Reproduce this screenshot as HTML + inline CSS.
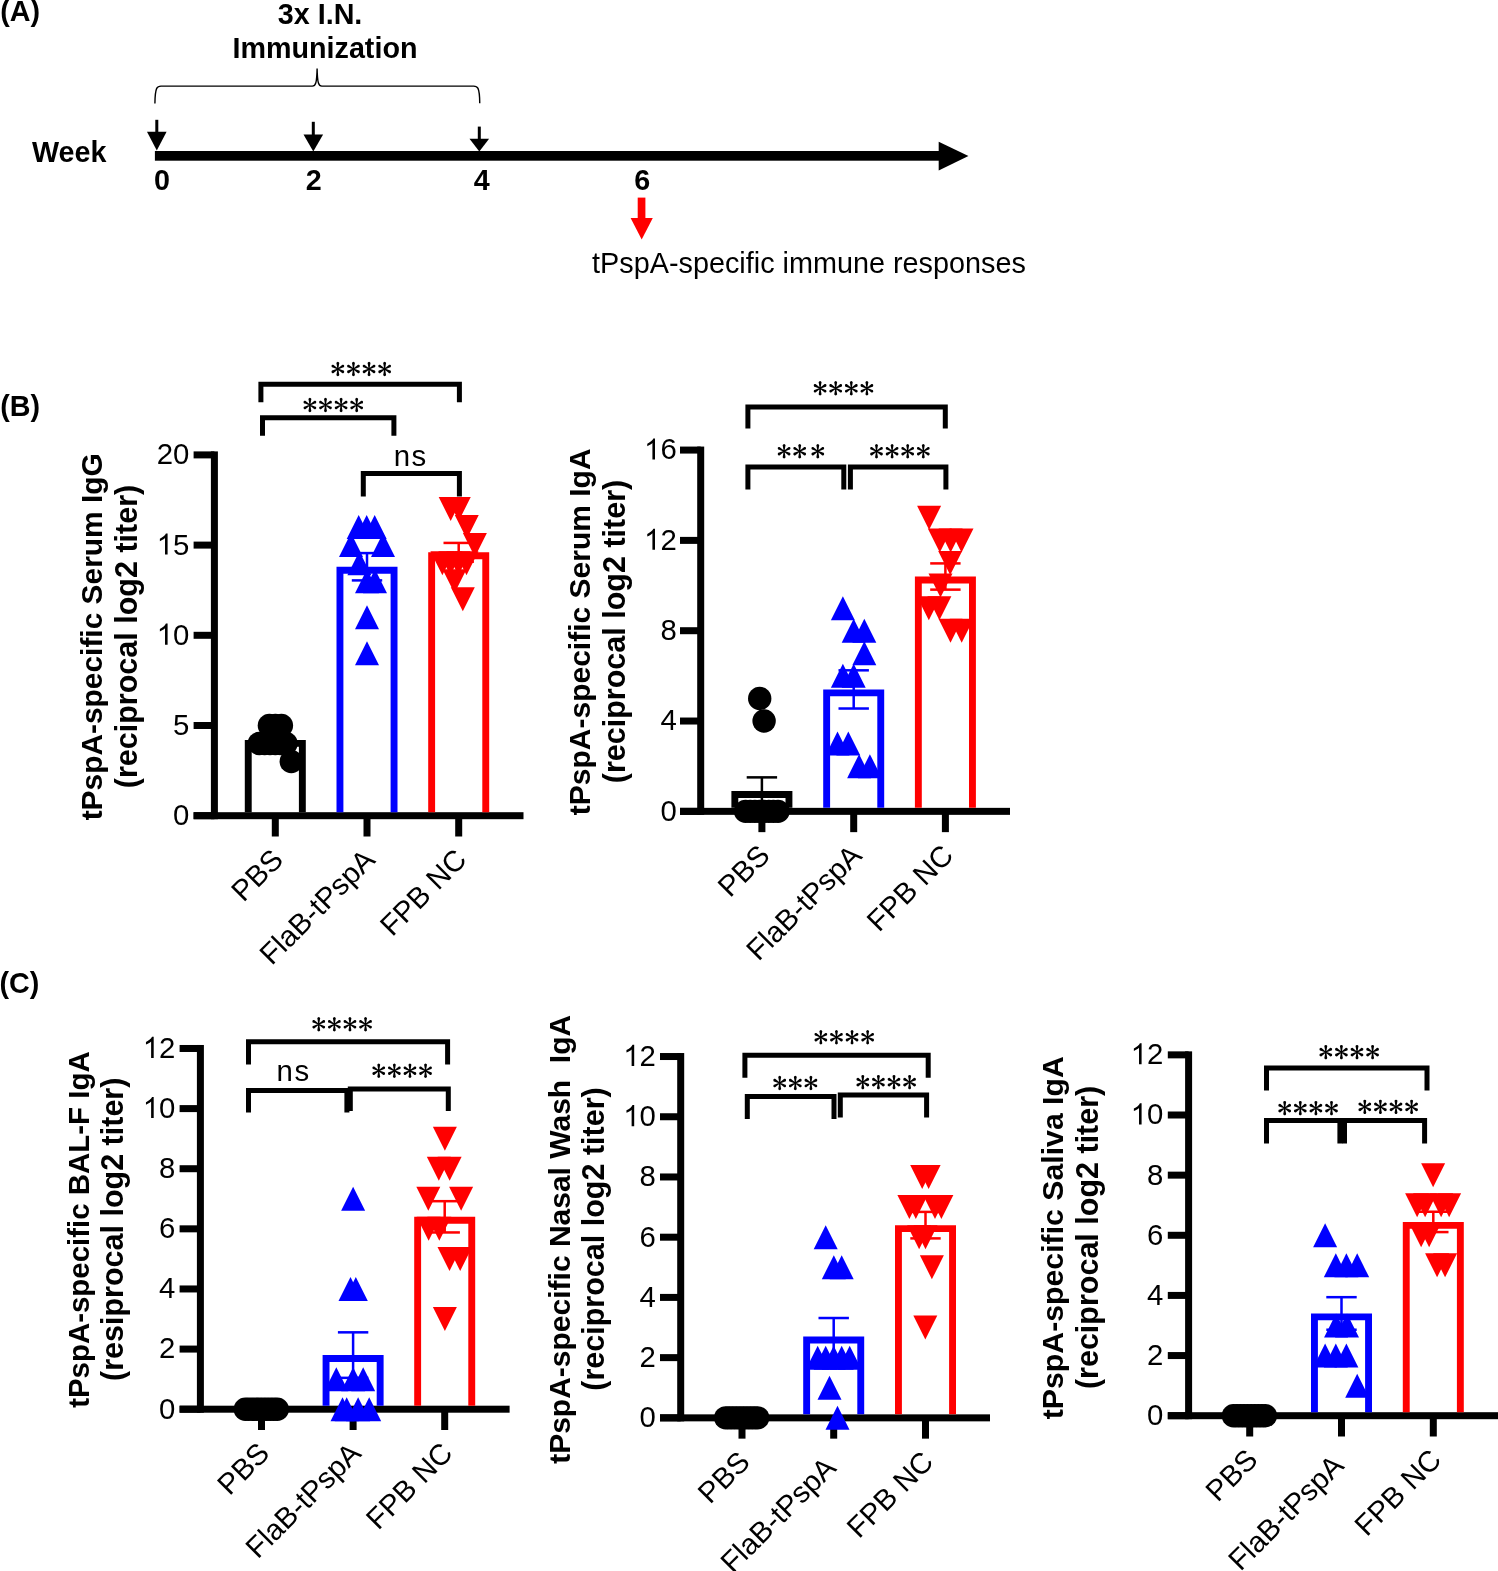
<!DOCTYPE html>
<html><head><meta charset="utf-8"><title>Figure</title>
<style>
html,body{margin:0;padding:0;background:#fff;}
body{width:1498px;height:1571px;overflow:hidden;font-family:"Liberation Sans",sans-serif;}
svg{display:block;}
</style></head><body>
<svg width="1498" height="1571" viewBox="0 0 1498 1571" style="will-change:transform">
<rect width="1498" height="1571" fill="#fff"/>
<text x="0.3" y="20.9" font-family="'Liberation Sans', sans-serif" font-weight="bold" font-size="28.7">(A)</text>
<text x="320.1" y="23.6" font-family="'Liberation Sans', sans-serif" font-weight="bold" font-size="28.7" text-anchor="middle">3x I.N.</text>
<text x="325" y="58.1" font-family="'Liberation Sans', sans-serif" font-weight="bold" font-size="28.7" text-anchor="middle">Immunization</text>
<text x="69.2" y="161.9" font-family="'Liberation Sans', sans-serif" font-weight="bold" font-size="28.7" text-anchor="middle">Week</text>
<text x="162.05" y="190.3" font-family="'Liberation Sans', sans-serif" font-weight="bold" font-size="28.7" text-anchor="middle">0</text>
<text x="313.8" y="190.3" font-family="'Liberation Sans', sans-serif" font-weight="bold" font-size="28.7" text-anchor="middle">2</text>
<text x="481.85" y="190.3" font-family="'Liberation Sans', sans-serif" font-weight="bold" font-size="28.7" text-anchor="middle">4</text>
<text x="642.2" y="190.3" font-family="'Liberation Sans', sans-serif" font-weight="bold" font-size="28.7" text-anchor="middle">6</text>
<path d="M154.9 103.5 C155 96 155.5 91 156.7 88.4 C157.5 86.8 158.8 86.1 161 86.1 H312.4 C315.4 86.1 316.8 83.8 317.1 68.5 C317.4 83.8 318.8 86.1 321.8 86.1 H473.7 C475.9 86.1 477.2 86.8 478 88.4 C479.2 91 479.7 96 479.75 103.3" fill="none" stroke="#000" stroke-width="1.4"/>
<rect x="154.9" y="151" width="790" height="9.7" fill="#000"/>
<path d="M938.7 141.7L968.45 156.1L938.7 170.5Z" fill="#000"/>
<rect x="155.3" y="119.8" width="3" height="13.000000000000014" fill="#000"/>
<path d="M147.0 131.8L166.60000000000002 131.8L156.8 150.6Z" fill="#000"/>
<rect x="311.8" y="121.8" width="3" height="13.799999999999997" fill="#000"/>
<path d="M303.5 134.6L323.1 134.6L313.3 151.6Z" fill="#000"/>
<rect x="477.8" y="126.6" width="3" height="13.200000000000017" fill="#000"/>
<path d="M469.5 138.8L489.1 138.8L479.3 151.6Z" fill="#000"/>
<rect x="637.7" y="197.6" width="7.7" height="21" fill="#ff0000"/>
<path d="M630.6 218.1L652.8 218.1L641.7 239.6Z" fill="#ff0000"/>
<text x="592.1" y="273.4" font-family="'Liberation Sans', sans-serif" font-size="28.8">tPspA-specific immune responses</text>
<text x="0.3" y="416" font-family="'Liberation Sans', sans-serif" font-weight="bold" font-size="28.7">(B)</text>
<text x="-0.6" y="993" font-family="'Liberation Sans', sans-serif" font-weight="bold" font-size="28.7">(C)</text>
<rect x="210.9" y="451.4" width="7" height="367.8" fill="#000000"/>
<rect x="193.6" y="812.2" width="329.9" height="7" fill="#000000"/>
<rect x="193.6" y="812.2" width="20.8" height="7" fill="#000000"/>
<text transform="translate(189.3 825.1) scale(1 1.02)" font-family="'Liberation Sans', sans-serif" font-size="29.33" text-anchor="end">0</text>
<rect x="193.6" y="722" width="20.8" height="7" fill="#000000"/>
<text transform="translate(189.3 734.9) scale(1 1.02)" font-family="'Liberation Sans', sans-serif" font-size="29.33" text-anchor="end">5</text>
<rect x="193.6" y="631.8" width="20.8" height="7" fill="#000000"/>
<path d="M763 0H583V1147Q518 1085 412.5 1023Q307 961 223 930V1104Q374 1175 487 1276Q600 1377 647 1472H763Z" transform="translate(156.67 644.7) scale(0.01432 -0.01432)"/>
<text transform="translate(189.3 644.7) scale(1 1.02)" font-family="'Liberation Sans', sans-serif" font-size="29.33" text-anchor="end">0</text>
<rect x="193.6" y="541.6" width="20.8" height="7" fill="#000000"/>
<path d="M763 0H583V1147Q518 1085 412.5 1023Q307 961 223 930V1104Q374 1175 487 1276Q600 1377 647 1472H763Z" transform="translate(156.67 554.5) scale(0.01432 -0.01432)"/>
<text transform="translate(189.3 554.5) scale(1 1.02)" font-family="'Liberation Sans', sans-serif" font-size="29.33" text-anchor="end">5</text>
<rect x="193.6" y="451.4" width="20.8" height="7" fill="#000000"/>
<text transform="translate(189.3 464.3) scale(1 1.02)" font-family="'Liberation Sans', sans-serif" font-size="29.33" text-anchor="end">20</text>
<rect x="271.8" y="815.7" width="7" height="20.8" fill="#000000"/>
<rect x="363.5" y="815.7" width="7" height="20.8" fill="#000000"/>
<rect x="455.2" y="815.7" width="7" height="20.8" fill="#000000"/>
<path fill-rule="evenodd" d="M244.8 812.2V739.93H305.8V812.2Z M251.7 812.2V746.83H298.9V812.2Z" fill="#000000"/>
<path fill-rule="evenodd" d="M336.5 812.2V566.75H397.5V812.2Z M343.4 812.2V573.65H390.6V812.2Z" fill="#0000ff"/>
<path fill-rule="evenodd" d="M428.2 812.2V552.32H489.2V812.2Z M435.1 812.2V559.22H482.3V812.2Z" fill="#ff0000"/>
<rect x="274.05" y="736.32" width="2.5" height="7.22" fill="#000000"/>
<rect x="260.1" y="735.07" width="30.4" height="2.5" fill="#000000"/>
<rect x="260.1" y="742.29" width="30.4" height="2.5" fill="#000000"/>
<rect x="365.75" y="553.09" width="2.5" height="27.31" fill="#0000ff"/>
<rect x="351.8" y="551.84" width="30.4" height="2.5" fill="#0000ff"/>
<rect x="351.8" y="579.15" width="30.4" height="2.5" fill="#0000ff"/>
<rect x="457.45" y="542.92" width="2.5" height="18.8" fill="#ff0000"/>
<rect x="443.5" y="541.67" width="30.4" height="2.5" fill="#ff0000"/>
<rect x="443.5" y="560.46" width="30.4" height="2.5" fill="#ff0000"/>
<circle cx="259.3" cy="743.54" r="11.7" fill="#000000"/>
<circle cx="264.64" cy="743.54" r="11.7" fill="#000000"/>
<circle cx="269.98" cy="743.54" r="11.7" fill="#000000"/>
<circle cx="275.32" cy="743.54" r="11.7" fill="#000000"/>
<circle cx="280.66" cy="743.54" r="11.7" fill="#000000"/>
<circle cx="286" cy="743.54" r="11.7" fill="#000000"/>
<circle cx="291.3" cy="761.58" r="11.7" fill="#000000"/>
<circle cx="269.4" cy="725.5" r="11.7" fill="#000000"/>
<circle cx="275.4" cy="725.5" r="11.7" fill="#000000"/>
<circle cx="281.4" cy="725.5" r="11.7" fill="#000000"/>
<path d="M339 557.1L363 557.1L351 533.1Z" fill="#0000ff"/>
<path d="M371 557.1L395 557.1L383 533.1Z" fill="#0000ff"/>
<path d="M346.7 539.06L370.7 539.06L358.7 515.06Z" fill="#0000ff"/>
<path d="M354.7 539.06L378.7 539.06L366.7 515.06Z" fill="#0000ff"/>
<path d="M362.7 539.06L386.7 539.06L374.7 515.06Z" fill="#0000ff"/>
<path d="M347.4 575.14L371.4 575.14L359.4 551.14Z" fill="#0000ff"/>
<path d="M355 593.18L379 593.18L367 569.18Z" fill="#0000ff"/>
<path d="M363 593.18L387 593.18L375 569.18Z" fill="#0000ff"/>
<path d="M355 629.26L379 629.26L367 605.26Z" fill="#0000ff"/>
<path d="M355 665.34L379 665.34L367 641.34Z" fill="#0000ff"/>
<path d="M438.7 497.02L462.7 497.02L450.7 521.02Z" fill="#ff0000"/>
<path d="M446.75 497.02L470.75 497.02L458.75 521.02Z" fill="#ff0000"/>
<path d="M454.75 515.06L478.75 515.06L466.75 539.06Z" fill="#ff0000"/>
<path d="M462.9 533.1L486.9 533.1L474.9 557.1Z" fill="#ff0000"/>
<path d="M430.4 551.14L454.4 551.14L442.4 575.14Z" fill="#ff0000"/>
<path d="M438.4 551.14L462.4 551.14L450.4 575.14Z" fill="#ff0000"/>
<path d="M446.4 551.14L470.4 551.14L458.4 575.14Z" fill="#ff0000"/>
<path d="M454.5 551.14L478.5 551.14L466.5 575.14Z" fill="#ff0000"/>
<path d="M442.5 569.18L466.5 569.18L454.5 593.18Z" fill="#ff0000"/>
<path d="M450.8 587.22L474.8 587.22L462.8 611.22Z" fill="#ff0000"/>
<text x="284.9" y="861.4" font-family="'Liberation Sans', sans-serif" font-size="29.33" font-weight="normal" text-anchor="end" transform="rotate(-45 284.9 861.4)">PBS</text>
<text x="376.6" y="861.4" font-family="'Liberation Sans', sans-serif" font-size="29.33" font-weight="normal" text-anchor="end" transform="rotate(-45 376.6 861.4)">FlaB-tPspA</text>
<text x="468.3" y="861.4" font-family="'Liberation Sans', sans-serif" font-size="29.33" font-weight="normal" text-anchor="end" transform="rotate(-45 468.3 861.4)">FPB NC</text>
<text x="102" y="636.8" font-family="'Liberation Sans', sans-serif" font-size="29.9" font-weight="bold" text-anchor="middle" transform="rotate(-90 102 636.8)">tPspA-specific Serum IgG</text>
<text x="136.8" y="636.5" font-family="'Liberation Sans', sans-serif" font-size="30.5" font-weight="bold" text-anchor="middle" transform="rotate(-90 136.8 636.5)">(reciprocal log2 titer)</text>
<path d="M258.4 402.3V381.7H461.9V402.3H456.9V386.7H263.4V402.3Z" fill="#000"/>
<path d="M-0.40 0.30L-1.25 -4.95A1.45 1.45 0 1 1 1.25 -4.95L0.40 0.30ZM-0.46 -0.20L3.66 -3.56A1.45 1.45 0 1 1 4.91 -1.39L-0.06 0.50ZM-0.06 -0.50L4.91 1.39A1.45 1.45 0 1 1 3.66 3.56L-0.46 0.20ZM0.40 -0.30L1.25 4.95A1.45 1.45 0 1 1 -1.25 4.95L-0.40 -0.30ZM0.46 0.20L-3.66 3.56A1.45 1.45 0 1 1 -4.91 1.39L0.06 -0.50ZM0.06 0.50L-4.91 -1.39A1.45 1.45 0 1 1 -3.66 -3.56L0.46 -0.20Z" transform="translate(337.85 368.95)"/>
<path d="M-0.40 0.30L-1.25 -4.95A1.45 1.45 0 1 1 1.25 -4.95L0.40 0.30ZM-0.46 -0.20L3.66 -3.56A1.45 1.45 0 1 1 4.91 -1.39L-0.06 0.50ZM-0.06 -0.50L4.91 1.39A1.45 1.45 0 1 1 3.66 3.56L-0.46 0.20ZM0.40 -0.30L1.25 4.95A1.45 1.45 0 1 1 -1.25 4.95L-0.40 -0.30ZM0.46 0.20L-3.66 3.56A1.45 1.45 0 1 1 -4.91 1.39L0.06 -0.50ZM0.06 0.50L-4.91 -1.39A1.45 1.45 0 1 1 -3.66 -3.56L0.46 -0.20Z" transform="translate(353.45 368.95)"/>
<path d="M-0.40 0.30L-1.25 -4.95A1.45 1.45 0 1 1 1.25 -4.95L0.40 0.30ZM-0.46 -0.20L3.66 -3.56A1.45 1.45 0 1 1 4.91 -1.39L-0.06 0.50ZM-0.06 -0.50L4.91 1.39A1.45 1.45 0 1 1 3.66 3.56L-0.46 0.20ZM0.40 -0.30L1.25 4.95A1.45 1.45 0 1 1 -1.25 4.95L-0.40 -0.30ZM0.46 0.20L-3.66 3.56A1.45 1.45 0 1 1 -4.91 1.39L0.06 -0.50ZM0.06 0.50L-4.91 -1.39A1.45 1.45 0 1 1 -3.66 -3.56L0.46 -0.20Z" transform="translate(369.05 368.95)"/>
<path d="M-0.40 0.30L-1.25 -4.95A1.45 1.45 0 1 1 1.25 -4.95L0.40 0.30ZM-0.46 -0.20L3.66 -3.56A1.45 1.45 0 1 1 4.91 -1.39L-0.06 0.50ZM-0.06 -0.50L4.91 1.39A1.45 1.45 0 1 1 3.66 3.56L-0.46 0.20ZM0.40 -0.30L1.25 4.95A1.45 1.45 0 1 1 -1.25 4.95L-0.40 -0.30ZM0.46 0.20L-3.66 3.56A1.45 1.45 0 1 1 -4.91 1.39L0.06 -0.50ZM0.06 0.50L-4.91 -1.39A1.45 1.45 0 1 1 -3.66 -3.56L0.46 -0.20Z" transform="translate(384.65 368.95)"/>
<path d="M260 435.8V415.2H396.4V435.8H391.4V420.2H265V435.8Z" fill="#000"/>
<path d="M-0.40 0.30L-1.25 -4.95A1.45 1.45 0 1 1 1.25 -4.95L0.40 0.30ZM-0.46 -0.20L3.66 -3.56A1.45 1.45 0 1 1 4.91 -1.39L-0.06 0.50ZM-0.06 -0.50L4.91 1.39A1.45 1.45 0 1 1 3.66 3.56L-0.46 0.20ZM0.40 -0.30L1.25 4.95A1.45 1.45 0 1 1 -1.25 4.95L-0.40 -0.30ZM0.46 0.20L-3.66 3.56A1.45 1.45 0 1 1 -4.91 1.39L0.06 -0.50ZM0.06 0.50L-4.91 -1.39A1.45 1.45 0 1 1 -3.66 -3.56L0.46 -0.20Z" transform="translate(309.9 405)"/>
<path d="M-0.40 0.30L-1.25 -4.95A1.45 1.45 0 1 1 1.25 -4.95L0.40 0.30ZM-0.46 -0.20L3.66 -3.56A1.45 1.45 0 1 1 4.91 -1.39L-0.06 0.50ZM-0.06 -0.50L4.91 1.39A1.45 1.45 0 1 1 3.66 3.56L-0.46 0.20ZM0.40 -0.30L1.25 4.95A1.45 1.45 0 1 1 -1.25 4.95L-0.40 -0.30ZM0.46 0.20L-3.66 3.56A1.45 1.45 0 1 1 -4.91 1.39L0.06 -0.50ZM0.06 0.50L-4.91 -1.39A1.45 1.45 0 1 1 -3.66 -3.56L0.46 -0.20Z" transform="translate(325.5 405)"/>
<path d="M-0.40 0.30L-1.25 -4.95A1.45 1.45 0 1 1 1.25 -4.95L0.40 0.30ZM-0.46 -0.20L3.66 -3.56A1.45 1.45 0 1 1 4.91 -1.39L-0.06 0.50ZM-0.06 -0.50L4.91 1.39A1.45 1.45 0 1 1 3.66 3.56L-0.46 0.20ZM0.40 -0.30L1.25 4.95A1.45 1.45 0 1 1 -1.25 4.95L-0.40 -0.30ZM0.46 0.20L-3.66 3.56A1.45 1.45 0 1 1 -4.91 1.39L0.06 -0.50ZM0.06 0.50L-4.91 -1.39A1.45 1.45 0 1 1 -3.66 -3.56L0.46 -0.20Z" transform="translate(341.1 405)"/>
<path d="M-0.40 0.30L-1.25 -4.95A1.45 1.45 0 1 1 1.25 -4.95L0.40 0.30ZM-0.46 -0.20L3.66 -3.56A1.45 1.45 0 1 1 4.91 -1.39L-0.06 0.50ZM-0.06 -0.50L4.91 1.39A1.45 1.45 0 1 1 3.66 3.56L-0.46 0.20ZM0.40 -0.30L1.25 4.95A1.45 1.45 0 1 1 -1.25 4.95L-0.40 -0.30ZM0.46 0.20L-3.66 3.56A1.45 1.45 0 1 1 -4.91 1.39L0.06 -0.50ZM0.06 0.50L-4.91 -1.39A1.45 1.45 0 1 1 -3.66 -3.56L0.46 -0.20Z" transform="translate(356.7 405)"/>
<path d="M360.8 496.4V470.9H461.9V496.4H456.9V475.9H365.8V496.4Z" fill="#000"/>
<text x="410.8" y="466.3" font-family="'Liberation Sans', sans-serif" font-size="29.4" font-weight="normal" text-anchor="middle" letter-spacing="1.5">ns</text>
<rect x="697.2" y="446.57" width="7" height="368.28" fill="#000000"/>
<rect x="680" y="807.85" width="330" height="7" fill="#000000"/>
<rect x="680" y="807.85" width="20.7" height="7" fill="#000000"/>
<text transform="translate(676.7 820.75) scale(1 1.02)" font-family="'Liberation Sans', sans-serif" font-size="29.33" text-anchor="end">0</text>
<rect x="680" y="717.53" width="20.7" height="7" fill="#000000"/>
<text transform="translate(676.7 730.43) scale(1 1.02)" font-family="'Liberation Sans', sans-serif" font-size="29.33" text-anchor="end">4</text>
<rect x="680" y="627.21" width="20.7" height="7" fill="#000000"/>
<text transform="translate(676.7 640.11) scale(1 1.02)" font-family="'Liberation Sans', sans-serif" font-size="29.33" text-anchor="end">8</text>
<rect x="680" y="536.89" width="20.7" height="7" fill="#000000"/>
<path d="M763 0H583V1147Q518 1085 412.5 1023Q307 961 223 930V1104Q374 1175 487 1276Q600 1377 647 1472H763Z" transform="translate(644.07 549.79) scale(0.01432 -0.01432)"/>
<text transform="translate(676.7 549.79) scale(1 1.02)" font-family="'Liberation Sans', sans-serif" font-size="29.33" text-anchor="end">2</text>
<rect x="680" y="446.57" width="20.7" height="7" fill="#000000"/>
<path d="M763 0H583V1147Q518 1085 412.5 1023Q307 961 223 930V1104Q374 1175 487 1276Q600 1377 647 1472H763Z" transform="translate(644.07 459.47) scale(0.01432 -0.01432)"/>
<text transform="translate(676.7 459.47) scale(1 1.02)" font-family="'Liberation Sans', sans-serif" font-size="29.33" text-anchor="end">6</text>
<rect x="758.4" y="811.35" width="7" height="20.8" fill="#000000"/>
<rect x="850.2" y="811.35" width="7" height="20.8" fill="#000000"/>
<rect x="941.9" y="811.35" width="7" height="20.8" fill="#000000"/>
<path fill-rule="evenodd" d="M731.4 807.85V791.03H792.4V807.85Z M738.3 807.85V797.93H785.5V807.85Z" fill="#000000"/>
<path fill-rule="evenodd" d="M823.2 807.85V689.42H884.2V807.85Z M830.1 807.85V696.32H877.3V807.85Z" fill="#0000ff"/>
<path fill-rule="evenodd" d="M914.9 807.85V576.52H975.9V807.85Z M921.8 807.85V583.42H969V807.85Z" fill="#ff0000"/>
<rect x="760.65" y="777.37" width="2.5" height="27.32" fill="#000000"/>
<rect x="746.7" y="776.12" width="30.4" height="2.5" fill="#000000"/>
<rect x="746.7" y="803.44" width="30.4" height="2.5" fill="#000000"/>
<rect x="852.45" y="670.32" width="2.5" height="38.21" fill="#0000ff"/>
<rect x="838.5" y="669.07" width="30.4" height="2.5" fill="#0000ff"/>
<rect x="838.5" y="707.27" width="30.4" height="2.5" fill="#0000ff"/>
<rect x="944.15" y="563.4" width="2.5" height="26.24" fill="#ff0000"/>
<rect x="930.2" y="562.15" width="30.4" height="2.5" fill="#ff0000"/>
<rect x="930.2" y="588.39" width="30.4" height="2.5" fill="#ff0000"/>
<circle cx="745.59" cy="811.35" r="11.7" fill="#000000"/>
<circle cx="750.22" cy="811.35" r="11.7" fill="#000000"/>
<circle cx="754.85" cy="811.35" r="11.7" fill="#000000"/>
<circle cx="759.48" cy="811.35" r="11.7" fill="#000000"/>
<circle cx="764.12" cy="811.35" r="11.7" fill="#000000"/>
<circle cx="768.75" cy="811.35" r="11.7" fill="#000000"/>
<circle cx="773.38" cy="811.35" r="11.7" fill="#000000"/>
<circle cx="778" cy="811.35" r="11.7" fill="#000000"/>
<circle cx="764.1" cy="721.03" r="11.7" fill="#000000"/>
<circle cx="759.7" cy="698.45" r="11.7" fill="#000000"/>
<path d="M825.5 755.61L849.5 755.61L837.5 731.61Z" fill="#0000ff"/>
<path d="M836.3 755.61L860.3 755.61L848.3 731.61Z" fill="#0000ff"/>
<path d="M847.1 778.19L871.1 778.19L859.1 754.19Z" fill="#0000ff"/>
<path d="M857.9 778.19L881.9 778.19L869.9 754.19Z" fill="#0000ff"/>
<path d="M830.9 687.87L854.9 687.87L842.9 663.87Z" fill="#0000ff"/>
<path d="M841.7 687.87L865.7 687.87L853.7 663.87Z" fill="#0000ff"/>
<path d="M852.3 665.29L876.3 665.29L864.3 641.29Z" fill="#0000ff"/>
<path d="M841.7 642.71L865.7 642.71L853.7 618.71Z" fill="#0000ff"/>
<path d="M852.3 642.71L876.3 642.71L864.3 618.71Z" fill="#0000ff"/>
<path d="M830.9 620.13L854.9 620.13L842.9 596.13Z" fill="#0000ff"/>
<path d="M938.5 618.71L962.5 618.71L950.5 642.71Z" fill="#ff0000"/>
<path d="M949.7 618.71L973.7 618.71L961.7 642.71Z" fill="#ff0000"/>
<path d="M916.8 596.13L940.8 596.13L928.8 620.13Z" fill="#ff0000"/>
<path d="M927.4 596.13L951.4 596.13L939.4 620.13Z" fill="#ff0000"/>
<path d="M928.5 573.55L952.5 573.55L940.5 597.55Z" fill="#ff0000"/>
<path d="M938.2 550.97L962.2 550.97L950.2 574.97Z" fill="#ff0000"/>
<path d="M927.8 528.39L951.8 528.39L939.8 552.39Z" fill="#ff0000"/>
<path d="M938.6 528.39L962.6 528.39L950.6 552.39Z" fill="#ff0000"/>
<path d="M949.5 528.39L973.5 528.39L961.5 552.39Z" fill="#ff0000"/>
<path d="M917.1 505.81L941.1 505.81L929.1 529.81Z" fill="#ff0000"/>
<text x="771.5" y="857.05" font-family="'Liberation Sans', sans-serif" font-size="29.33" font-weight="normal" text-anchor="end" transform="rotate(-45 771.5 857.05)">PBS</text>
<text x="863.3" y="857.05" font-family="'Liberation Sans', sans-serif" font-size="29.33" font-weight="normal" text-anchor="end" transform="rotate(-45 863.3 857.05)">FlaB-tPspA</text>
<text x="955" y="857.05" font-family="'Liberation Sans', sans-serif" font-size="29.33" font-weight="normal" text-anchor="end" transform="rotate(-45 955 857.05)">FPB NC</text>
<text x="590.2" y="631.8" font-family="'Liberation Sans', sans-serif" font-size="30" font-weight="bold" text-anchor="middle" transform="rotate(-90 590.2 631.8)">tPspA-specific Serum IgA</text>
<text x="625" y="631.5" font-family="'Liberation Sans', sans-serif" font-size="30.5" font-weight="bold" text-anchor="middle" transform="rotate(-90 625 631.5)">(reciprocal log2 titer)</text>
<path d="M745.4 428.5V404.4H947.8V428.5H942.8V409.4H750.4V428.5Z" fill="#000"/>
<path d="M-0.40 0.30L-1.25 -4.95A1.45 1.45 0 1 1 1.25 -4.95L0.40 0.30ZM-0.46 -0.20L3.66 -3.56A1.45 1.45 0 1 1 4.91 -1.39L-0.06 0.50ZM-0.06 -0.50L4.91 1.39A1.45 1.45 0 1 1 3.66 3.56L-0.46 0.20ZM0.40 -0.30L1.25 4.95A1.45 1.45 0 1 1 -1.25 4.95L-0.40 -0.30ZM0.46 0.20L-3.66 3.56A1.45 1.45 0 1 1 -4.91 1.39L0.06 -0.50ZM0.06 0.50L-4.91 -1.39A1.45 1.45 0 1 1 -3.66 -3.56L0.46 -0.20Z" transform="translate(820.1 388.3)"/>
<path d="M-0.40 0.30L-1.25 -4.95A1.45 1.45 0 1 1 1.25 -4.95L0.40 0.30ZM-0.46 -0.20L3.66 -3.56A1.45 1.45 0 1 1 4.91 -1.39L-0.06 0.50ZM-0.06 -0.50L4.91 1.39A1.45 1.45 0 1 1 3.66 3.56L-0.46 0.20ZM0.40 -0.30L1.25 4.95A1.45 1.45 0 1 1 -1.25 4.95L-0.40 -0.30ZM0.46 0.20L-3.66 3.56A1.45 1.45 0 1 1 -4.91 1.39L0.06 -0.50ZM0.06 0.50L-4.91 -1.39A1.45 1.45 0 1 1 -3.66 -3.56L0.46 -0.20Z" transform="translate(835.7 388.3)"/>
<path d="M-0.40 0.30L-1.25 -4.95A1.45 1.45 0 1 1 1.25 -4.95L0.40 0.30ZM-0.46 -0.20L3.66 -3.56A1.45 1.45 0 1 1 4.91 -1.39L-0.06 0.50ZM-0.06 -0.50L4.91 1.39A1.45 1.45 0 1 1 3.66 3.56L-0.46 0.20ZM0.40 -0.30L1.25 4.95A1.45 1.45 0 1 1 -1.25 4.95L-0.40 -0.30ZM0.46 0.20L-3.66 3.56A1.45 1.45 0 1 1 -4.91 1.39L0.06 -0.50ZM0.06 0.50L-4.91 -1.39A1.45 1.45 0 1 1 -3.66 -3.56L0.46 -0.20Z" transform="translate(851.3 388.3)"/>
<path d="M-0.40 0.30L-1.25 -4.95A1.45 1.45 0 1 1 1.25 -4.95L0.40 0.30ZM-0.46 -0.20L3.66 -3.56A1.45 1.45 0 1 1 4.91 -1.39L-0.06 0.50ZM-0.06 -0.50L4.91 1.39A1.45 1.45 0 1 1 3.66 3.56L-0.46 0.20ZM0.40 -0.30L1.25 4.95A1.45 1.45 0 1 1 -1.25 4.95L-0.40 -0.30ZM0.46 0.20L-3.66 3.56A1.45 1.45 0 1 1 -4.91 1.39L0.06 -0.50ZM0.06 0.50L-4.91 -1.39A1.45 1.45 0 1 1 -3.66 -3.56L0.46 -0.20Z" transform="translate(866.9 388.3)"/>
<path d="M745.4 489.4V464.5H846.3V489.4H841.3V469.5H750.4V489.4Z" fill="#000"/>
<path d="M-0.40 0.30L-1.25 -4.95A1.45 1.45 0 1 1 1.25 -4.95L0.40 0.30ZM-0.46 -0.20L3.66 -3.56A1.45 1.45 0 1 1 4.91 -1.39L-0.06 0.50ZM-0.06 -0.50L4.91 1.39A1.45 1.45 0 1 1 3.66 3.56L-0.46 0.20ZM0.40 -0.30L1.25 4.95A1.45 1.45 0 1 1 -1.25 4.95L-0.40 -0.30ZM0.46 0.20L-3.66 3.56A1.45 1.45 0 1 1 -4.91 1.39L0.06 -0.50ZM0.06 0.50L-4.91 -1.39A1.45 1.45 0 1 1 -3.66 -3.56L0.46 -0.20Z" transform="translate(784.1 451.2)"/>
<path d="M-0.40 0.30L-1.25 -4.95A1.45 1.45 0 1 1 1.25 -4.95L0.40 0.30ZM-0.46 -0.20L3.66 -3.56A1.45 1.45 0 1 1 4.91 -1.39L-0.06 0.50ZM-0.06 -0.50L4.91 1.39A1.45 1.45 0 1 1 3.66 3.56L-0.46 0.20ZM0.40 -0.30L1.25 4.95A1.45 1.45 0 1 1 -1.25 4.95L-0.40 -0.30ZM0.46 0.20L-3.66 3.56A1.45 1.45 0 1 1 -4.91 1.39L0.06 -0.50ZM0.06 0.50L-4.91 -1.39A1.45 1.45 0 1 1 -3.66 -3.56L0.46 -0.20Z" transform="translate(799.7 451.2)"/>
<path d="M-0.40 0.30L-1.25 -4.95A1.45 1.45 0 1 1 1.25 -4.95L0.40 0.30ZM-0.46 -0.20L3.66 -3.56A1.45 1.45 0 1 1 4.91 -1.39L-0.06 0.50ZM-0.06 -0.50L4.91 1.39A1.45 1.45 0 1 1 3.66 3.56L-0.46 0.20ZM0.40 -0.30L1.25 4.95A1.45 1.45 0 1 1 -1.25 4.95L-0.40 -0.30ZM0.46 0.20L-3.66 3.56A1.45 1.45 0 1 1 -4.91 1.39L0.06 -0.50ZM0.06 0.50L-4.91 -1.39A1.45 1.45 0 1 1 -3.66 -3.56L0.46 -0.20Z" transform="translate(817.8 451.2)"/>
<path d="M847.9 489.4V464.5H948.4V489.4H943.4V469.5H852.9V489.4Z" fill="#000"/>
<path d="M-0.40 0.30L-1.25 -4.95A1.45 1.45 0 1 1 1.25 -4.95L0.40 0.30ZM-0.46 -0.20L3.66 -3.56A1.45 1.45 0 1 1 4.91 -1.39L-0.06 0.50ZM-0.06 -0.50L4.91 1.39A1.45 1.45 0 1 1 3.66 3.56L-0.46 0.20ZM0.40 -0.30L1.25 4.95A1.45 1.45 0 1 1 -1.25 4.95L-0.40 -0.30ZM0.46 0.20L-3.66 3.56A1.45 1.45 0 1 1 -4.91 1.39L0.06 -0.50ZM0.06 0.50L-4.91 -1.39A1.45 1.45 0 1 1 -3.66 -3.56L0.46 -0.20Z" transform="translate(876.5 451.2)"/>
<path d="M-0.40 0.30L-1.25 -4.95A1.45 1.45 0 1 1 1.25 -4.95L0.40 0.30ZM-0.46 -0.20L3.66 -3.56A1.45 1.45 0 1 1 4.91 -1.39L-0.06 0.50ZM-0.06 -0.50L4.91 1.39A1.45 1.45 0 1 1 3.66 3.56L-0.46 0.20ZM0.40 -0.30L1.25 4.95A1.45 1.45 0 1 1 -1.25 4.95L-0.40 -0.30ZM0.46 0.20L-3.66 3.56A1.45 1.45 0 1 1 -4.91 1.39L0.06 -0.50ZM0.06 0.50L-4.91 -1.39A1.45 1.45 0 1 1 -3.66 -3.56L0.46 -0.20Z" transform="translate(892.1 451.2)"/>
<path d="M-0.40 0.30L-1.25 -4.95A1.45 1.45 0 1 1 1.25 -4.95L0.40 0.30ZM-0.46 -0.20L3.66 -3.56A1.45 1.45 0 1 1 4.91 -1.39L-0.06 0.50ZM-0.06 -0.50L4.91 1.39A1.45 1.45 0 1 1 3.66 3.56L-0.46 0.20ZM0.40 -0.30L1.25 4.95A1.45 1.45 0 1 1 -1.25 4.95L-0.40 -0.30ZM0.46 0.20L-3.66 3.56A1.45 1.45 0 1 1 -4.91 1.39L0.06 -0.50ZM0.06 0.50L-4.91 -1.39A1.45 1.45 0 1 1 -3.66 -3.56L0.46 -0.20Z" transform="translate(907.7 451.2)"/>
<path d="M-0.40 0.30L-1.25 -4.95A1.45 1.45 0 1 1 1.25 -4.95L0.40 0.30ZM-0.46 -0.20L3.66 -3.56A1.45 1.45 0 1 1 4.91 -1.39L-0.06 0.50ZM-0.06 -0.50L4.91 1.39A1.45 1.45 0 1 1 3.66 3.56L-0.46 0.20ZM0.40 -0.30L1.25 4.95A1.45 1.45 0 1 1 -1.25 4.95L-0.40 -0.30ZM0.46 0.20L-3.66 3.56A1.45 1.45 0 1 1 -4.91 1.39L0.06 -0.50ZM0.06 0.50L-4.91 -1.39A1.45 1.45 0 1 1 -3.66 -3.56L0.46 -0.20Z" transform="translate(923.3 451.2)"/>
<rect x="196.9" y="1044.98" width="7" height="367.72" fill="#000000"/>
<rect x="179.6" y="1405.7" width="330" height="7" fill="#000000"/>
<rect x="179.6" y="1405.7" width="20.8" height="7" fill="#000000"/>
<text transform="translate(175.4 1418.6) scale(1 1.02)" font-family="'Liberation Sans', sans-serif" font-size="29.33" text-anchor="end">0</text>
<rect x="179.6" y="1345.58" width="20.8" height="7" fill="#000000"/>
<text transform="translate(175.4 1358.48) scale(1 1.02)" font-family="'Liberation Sans', sans-serif" font-size="29.33" text-anchor="end">2</text>
<rect x="179.6" y="1285.46" width="20.8" height="7" fill="#000000"/>
<text transform="translate(175.4 1298.36) scale(1 1.02)" font-family="'Liberation Sans', sans-serif" font-size="29.33" text-anchor="end">4</text>
<rect x="179.6" y="1225.34" width="20.8" height="7" fill="#000000"/>
<text transform="translate(175.4 1238.24) scale(1 1.02)" font-family="'Liberation Sans', sans-serif" font-size="29.33" text-anchor="end">6</text>
<rect x="179.6" y="1165.22" width="20.8" height="7" fill="#000000"/>
<text transform="translate(175.4 1178.12) scale(1 1.02)" font-family="'Liberation Sans', sans-serif" font-size="29.33" text-anchor="end">8</text>
<rect x="179.6" y="1105.1" width="20.8" height="7" fill="#000000"/>
<path d="M763 0H583V1147Q518 1085 412.5 1023Q307 961 223 930V1104Q374 1175 487 1276Q600 1377 647 1472H763Z" transform="translate(142.77 1118) scale(0.01432 -0.01432)"/>
<text transform="translate(175.4 1118) scale(1 1.02)" font-family="'Liberation Sans', sans-serif" font-size="29.33" text-anchor="end">0</text>
<rect x="179.6" y="1044.98" width="20.8" height="7" fill="#000000"/>
<path d="M763 0H583V1147Q518 1085 412.5 1023Q307 961 223 930V1104Q374 1175 487 1276Q600 1377 647 1472H763Z" transform="translate(142.77 1057.88) scale(0.01432 -0.01432)"/>
<text transform="translate(175.4 1057.88) scale(1 1.02)" font-family="'Liberation Sans', sans-serif" font-size="29.33" text-anchor="end">2</text>
<rect x="258" y="1409.2" width="7" height="20.8" fill="#000000"/>
<rect x="349.6" y="1409.2" width="7" height="20.8" fill="#000000"/>
<rect x="441.2" y="1409.2" width="7" height="20.8" fill="#000000"/>
<path fill-rule="evenodd" d="M322.6 1405.7V1355.09H383.6V1405.7Z M329.5 1405.7V1361.99H376.7V1405.7Z" fill="#0000ff"/>
<path fill-rule="evenodd" d="M414.2 1405.7V1216.82H475.2V1405.7Z M421.1 1405.7V1223.72H468.3V1405.7Z" fill="#ff0000"/>
<rect x="351.85" y="1332.34" width="2.5" height="45.51" fill="#0000ff"/>
<rect x="337.9" y="1331.09" width="30.4" height="2.5" fill="#0000ff"/>
<rect x="337.9" y="1376.6" width="30.4" height="2.5" fill="#0000ff"/>
<rect x="443.45" y="1201.18" width="2.5" height="31.26" fill="#ff0000"/>
<rect x="429.5" y="1199.93" width="30.4" height="2.5" fill="#ff0000"/>
<rect x="429.5" y="1231.2" width="30.4" height="2.5" fill="#ff0000"/>
<circle cx="245.33" cy="1409.2" r="11.7" fill="#000000"/>
<circle cx="248.88" cy="1409.2" r="11.7" fill="#000000"/>
<circle cx="252.43" cy="1409.2" r="11.7" fill="#000000"/>
<circle cx="255.98" cy="1409.2" r="11.7" fill="#000000"/>
<circle cx="259.53" cy="1409.2" r="11.7" fill="#000000"/>
<circle cx="263.07" cy="1409.2" r="11.7" fill="#000000"/>
<circle cx="266.62" cy="1409.2" r="11.7" fill="#000000"/>
<circle cx="270.18" cy="1409.2" r="11.7" fill="#000000"/>
<circle cx="273.73" cy="1409.2" r="11.7" fill="#000000"/>
<circle cx="277.28" cy="1409.2" r="11.7" fill="#000000"/>
<path d="M330.5 1421.2L354.5 1421.2L342.5 1397.2Z" fill="#0000ff"/>
<path d="M334.7 1421.2L358.7 1421.2L346.7 1397.2Z" fill="#0000ff"/>
<path d="M346.1 1421.2L370.1 1421.2L358.1 1397.2Z" fill="#0000ff"/>
<path d="M357.2 1421.2L381.2 1421.2L369.2 1397.2Z" fill="#0000ff"/>
<path d="M324.3 1391.14L348.3 1391.14L336.3 1367.14Z" fill="#0000ff"/>
<path d="M341.1 1391.14L365.1 1391.14L353.1 1367.14Z" fill="#0000ff"/>
<path d="M351.2 1391.14L375.2 1391.14L363.2 1367.14Z" fill="#0000ff"/>
<path d="M338.5 1300.96L362.5 1300.96L350.5 1276.96Z" fill="#0000ff"/>
<path d="M343.8 1300.96L367.8 1300.96L355.8 1276.96Z" fill="#0000ff"/>
<path d="M341.1 1210.78L365.1 1210.78L353.1 1186.78Z" fill="#0000ff"/>
<path d="M432.9 1307.02L456.9 1307.02L444.9 1331.02Z" fill="#ff0000"/>
<path d="M437.5 1246.9L461.5 1246.9L449.5 1270.9Z" fill="#ff0000"/>
<path d="M448.2 1246.9L472.2 1246.9L460.2 1270.9Z" fill="#ff0000"/>
<path d="M416.6 1216.84L440.6 1216.84L428.6 1240.84Z" fill="#ff0000"/>
<path d="M427.3 1216.84L451.3 1216.84L439.3 1240.84Z" fill="#ff0000"/>
<path d="M416.3 1186.78L440.3 1186.78L428.3 1210.78Z" fill="#ff0000"/>
<path d="M449.1 1186.78L473.1 1186.78L461.1 1210.78Z" fill="#ff0000"/>
<path d="M426.8 1156.72L450.8 1156.72L438.8 1180.72Z" fill="#ff0000"/>
<path d="M437.6 1156.72L461.6 1156.72L449.6 1180.72Z" fill="#ff0000"/>
<path d="M432.9 1126.66L456.9 1126.66L444.9 1150.66Z" fill="#ff0000"/>
<text x="271.1" y="1454.9" font-family="'Liberation Sans', sans-serif" font-size="29.33" font-weight="normal" text-anchor="end" transform="rotate(-45 271.1 1454.9)">PBS</text>
<text x="362.7" y="1454.9" font-family="'Liberation Sans', sans-serif" font-size="29.33" font-weight="normal" text-anchor="end" transform="rotate(-45 362.7 1454.9)">FlaB-tPspA</text>
<text x="454.3" y="1454.9" font-family="'Liberation Sans', sans-serif" font-size="29.33" font-weight="normal" text-anchor="end" transform="rotate(-45 454.3 1454.9)">FPB NC</text>
<text x="89.3" y="1229.6" font-family="'Liberation Sans', sans-serif" font-size="29.45" font-weight="bold" text-anchor="middle" transform="rotate(-90 89.3 1229.6)">tPspA-specific BAL-F IgA</text>
<text x="123" y="1229.3" font-family="'Liberation Sans', sans-serif" font-size="30.5" font-weight="bold" text-anchor="middle" transform="rotate(-90 123 1229.3)">(resiprocal log2 titer)</text>
<path d="M246 1064.5V1039.3H450.1V1064.5H445.1V1044.3H251V1064.5Z" fill="#000"/>
<path d="M-0.40 0.30L-1.25 -4.95A1.45 1.45 0 1 1 1.25 -4.95L0.40 0.30ZM-0.46 -0.20L3.66 -3.56A1.45 1.45 0 1 1 4.91 -1.39L-0.06 0.50ZM-0.06 -0.50L4.91 1.39A1.45 1.45 0 1 1 3.66 3.56L-0.46 0.20ZM0.40 -0.30L1.25 4.95A1.45 1.45 0 1 1 -1.25 4.95L-0.40 -0.30ZM0.46 0.20L-3.66 3.56A1.45 1.45 0 1 1 -4.91 1.39L0.06 -0.50ZM0.06 0.50L-4.91 -1.39A1.45 1.45 0 1 1 -3.66 -3.56L0.46 -0.20Z" transform="translate(318.75 1024.25)"/>
<path d="M-0.40 0.30L-1.25 -4.95A1.45 1.45 0 1 1 1.25 -4.95L0.40 0.30ZM-0.46 -0.20L3.66 -3.56A1.45 1.45 0 1 1 4.91 -1.39L-0.06 0.50ZM-0.06 -0.50L4.91 1.39A1.45 1.45 0 1 1 3.66 3.56L-0.46 0.20ZM0.40 -0.30L1.25 4.95A1.45 1.45 0 1 1 -1.25 4.95L-0.40 -0.30ZM0.46 0.20L-3.66 3.56A1.45 1.45 0 1 1 -4.91 1.39L0.06 -0.50ZM0.06 0.50L-4.91 -1.39A1.45 1.45 0 1 1 -3.66 -3.56L0.46 -0.20Z" transform="translate(334.35 1024.25)"/>
<path d="M-0.40 0.30L-1.25 -4.95A1.45 1.45 0 1 1 1.25 -4.95L0.40 0.30ZM-0.46 -0.20L3.66 -3.56A1.45 1.45 0 1 1 4.91 -1.39L-0.06 0.50ZM-0.06 -0.50L4.91 1.39A1.45 1.45 0 1 1 3.66 3.56L-0.46 0.20ZM0.40 -0.30L1.25 4.95A1.45 1.45 0 1 1 -1.25 4.95L-0.40 -0.30ZM0.46 0.20L-3.66 3.56A1.45 1.45 0 1 1 -4.91 1.39L0.06 -0.50ZM0.06 0.50L-4.91 -1.39A1.45 1.45 0 1 1 -3.66 -3.56L0.46 -0.20Z" transform="translate(349.95 1024.25)"/>
<path d="M-0.40 0.30L-1.25 -4.95A1.45 1.45 0 1 1 1.25 -4.95L0.40 0.30ZM-0.46 -0.20L3.66 -3.56A1.45 1.45 0 1 1 4.91 -1.39L-0.06 0.50ZM-0.06 -0.50L4.91 1.39A1.45 1.45 0 1 1 3.66 3.56L-0.46 0.20ZM0.40 -0.30L1.25 4.95A1.45 1.45 0 1 1 -1.25 4.95L-0.40 -0.30ZM0.46 0.20L-3.66 3.56A1.45 1.45 0 1 1 -4.91 1.39L0.06 -0.50ZM0.06 0.50L-4.91 -1.39A1.45 1.45 0 1 1 -3.66 -3.56L0.46 -0.20Z" transform="translate(365.55 1024.25)"/>
<path d="M246 1112.5V1088H349.4V1112.5H344.4V1093H251V1112.5Z" fill="#000"/>
<text x="293.6" y="1080.5" font-family="'Liberation Sans', sans-serif" font-size="29.4" font-weight="normal" text-anchor="middle" letter-spacing="1.5">ns</text>
<path d="M347.8 1110.9V1086.4H450.8V1110.9H445.8V1091.4H352.8V1110.9Z" fill="#000"/>
<path d="M-0.40 0.30L-1.25 -4.95A1.45 1.45 0 1 1 1.25 -4.95L0.40 0.30ZM-0.46 -0.20L3.66 -3.56A1.45 1.45 0 1 1 4.91 -1.39L-0.06 0.50ZM-0.06 -0.50L4.91 1.39A1.45 1.45 0 1 1 3.66 3.56L-0.46 0.20ZM0.40 -0.30L1.25 4.95A1.45 1.45 0 1 1 -1.25 4.95L-0.40 -0.30ZM0.46 0.20L-3.66 3.56A1.45 1.45 0 1 1 -4.91 1.39L0.06 -0.50ZM0.06 0.50L-4.91 -1.39A1.45 1.45 0 1 1 -3.66 -3.56L0.46 -0.20Z" transform="translate(378.75 1070.7)"/>
<path d="M-0.40 0.30L-1.25 -4.95A1.45 1.45 0 1 1 1.25 -4.95L0.40 0.30ZM-0.46 -0.20L3.66 -3.56A1.45 1.45 0 1 1 4.91 -1.39L-0.06 0.50ZM-0.06 -0.50L4.91 1.39A1.45 1.45 0 1 1 3.66 3.56L-0.46 0.20ZM0.40 -0.30L1.25 4.95A1.45 1.45 0 1 1 -1.25 4.95L-0.40 -0.30ZM0.46 0.20L-3.66 3.56A1.45 1.45 0 1 1 -4.91 1.39L0.06 -0.50ZM0.06 0.50L-4.91 -1.39A1.45 1.45 0 1 1 -3.66 -3.56L0.46 -0.20Z" transform="translate(394.35 1070.7)"/>
<path d="M-0.40 0.30L-1.25 -4.95A1.45 1.45 0 1 1 1.25 -4.95L0.40 0.30ZM-0.46 -0.20L3.66 -3.56A1.45 1.45 0 1 1 4.91 -1.39L-0.06 0.50ZM-0.06 -0.50L4.91 1.39A1.45 1.45 0 1 1 3.66 3.56L-0.46 0.20ZM0.40 -0.30L1.25 4.95A1.45 1.45 0 1 1 -1.25 4.95L-0.40 -0.30ZM0.46 0.20L-3.66 3.56A1.45 1.45 0 1 1 -4.91 1.39L0.06 -0.50ZM0.06 0.50L-4.91 -1.39A1.45 1.45 0 1 1 -3.66 -3.56L0.46 -0.20Z" transform="translate(409.95 1070.7)"/>
<path d="M-0.40 0.30L-1.25 -4.95A1.45 1.45 0 1 1 1.25 -4.95L0.40 0.30ZM-0.46 -0.20L3.66 -3.56A1.45 1.45 0 1 1 4.91 -1.39L-0.06 0.50ZM-0.06 -0.50L4.91 1.39A1.45 1.45 0 1 1 3.66 3.56L-0.46 0.20ZM0.40 -0.30L1.25 4.95A1.45 1.45 0 1 1 -1.25 4.95L-0.40 -0.30ZM0.46 0.20L-3.66 3.56A1.45 1.45 0 1 1 -4.91 1.39L0.06 -0.50ZM0.06 0.50L-4.91 -1.39A1.45 1.45 0 1 1 -3.66 -3.56L0.46 -0.20Z" transform="translate(425.55 1070.7)"/>
<rect x="677.2" y="1053.03" width="7" height="368.32" fill="#000000"/>
<rect x="660" y="1414.35" width="330" height="7" fill="#000000"/>
<rect x="660" y="1414.35" width="20.7" height="7" fill="#000000"/>
<text transform="translate(655.9 1427.25) scale(1 1.02)" font-family="'Liberation Sans', sans-serif" font-size="29.33" text-anchor="end">0</text>
<rect x="660" y="1354.13" width="20.7" height="7" fill="#000000"/>
<text transform="translate(655.9 1367.03) scale(1 1.02)" font-family="'Liberation Sans', sans-serif" font-size="29.33" text-anchor="end">2</text>
<rect x="660" y="1293.91" width="20.7" height="7" fill="#000000"/>
<text transform="translate(655.9 1306.81) scale(1 1.02)" font-family="'Liberation Sans', sans-serif" font-size="29.33" text-anchor="end">4</text>
<rect x="660" y="1233.69" width="20.7" height="7" fill="#000000"/>
<text transform="translate(655.9 1246.59) scale(1 1.02)" font-family="'Liberation Sans', sans-serif" font-size="29.33" text-anchor="end">6</text>
<rect x="660" y="1173.47" width="20.7" height="7" fill="#000000"/>
<text transform="translate(655.9 1186.37) scale(1 1.02)" font-family="'Liberation Sans', sans-serif" font-size="29.33" text-anchor="end">8</text>
<rect x="660" y="1113.25" width="20.7" height="7" fill="#000000"/>
<path d="M763 0H583V1147Q518 1085 412.5 1023Q307 961 223 930V1104Q374 1175 487 1276Q600 1377 647 1472H763Z" transform="translate(623.27 1126.15) scale(0.01432 -0.01432)"/>
<text transform="translate(655.9 1126.15) scale(1 1.02)" font-family="'Liberation Sans', sans-serif" font-size="29.33" text-anchor="end">0</text>
<rect x="660" y="1053.03" width="20.7" height="7" fill="#000000"/>
<path d="M763 0H583V1147Q518 1085 412.5 1023Q307 961 223 930V1104Q374 1175 487 1276Q600 1377 647 1472H763Z" transform="translate(623.27 1065.93) scale(0.01432 -0.01432)"/>
<text transform="translate(655.9 1065.93) scale(1 1.02)" font-family="'Liberation Sans', sans-serif" font-size="29.33" text-anchor="end">2</text>
<rect x="738.5" y="1417.85" width="7" height="20.8" fill="#000000"/>
<rect x="830.2" y="1417.85" width="7" height="20.8" fill="#000000"/>
<rect x="922" y="1417.85" width="7" height="20.8" fill="#000000"/>
<path fill-rule="evenodd" d="M803.2 1414.35V1336.55H864.2V1414.35Z M810.1 1414.35V1343.45H857.3V1414.35Z" fill="#0000ff"/>
<path fill-rule="evenodd" d="M895 1414.35V1225.15H956V1414.35Z M901.9 1414.35V1232.05H949.1V1414.35Z" fill="#ff0000"/>
<rect x="832.45" y="1318.02" width="2.5" height="37.07" fill="#0000ff"/>
<rect x="818.5" y="1316.77" width="30.4" height="2.5" fill="#0000ff"/>
<rect x="818.5" y="1353.84" width="30.4" height="2.5" fill="#0000ff"/>
<rect x="924.25" y="1211.9" width="2.5" height="26.5" fill="#ff0000"/>
<rect x="910.3" y="1210.65" width="30.4" height="2.5" fill="#ff0000"/>
<rect x="910.3" y="1237.14" width="30.4" height="2.5" fill="#ff0000"/>
<circle cx="725.73" cy="1417.85" r="11.7" fill="#000000"/>
<circle cx="729.28" cy="1417.85" r="11.7" fill="#000000"/>
<circle cx="732.83" cy="1417.85" r="11.7" fill="#000000"/>
<circle cx="736.38" cy="1417.85" r="11.7" fill="#000000"/>
<circle cx="739.93" cy="1417.85" r="11.7" fill="#000000"/>
<circle cx="743.48" cy="1417.85" r="11.7" fill="#000000"/>
<circle cx="747.03" cy="1417.85" r="11.7" fill="#000000"/>
<circle cx="750.58" cy="1417.85" r="11.7" fill="#000000"/>
<circle cx="754.12" cy="1417.85" r="11.7" fill="#000000"/>
<circle cx="757.68" cy="1417.85" r="11.7" fill="#000000"/>
<path d="M825.5 1429.85L849.5 1429.85L837.5 1405.85Z" fill="#0000ff"/>
<path d="M817.5 1399.74L841.5 1399.74L829.5 1375.74Z" fill="#0000ff"/>
<path d="M805.7 1369.63L829.7 1369.63L817.7 1345.63Z" fill="#0000ff"/>
<path d="M813.7 1369.63L837.7 1369.63L825.7 1345.63Z" fill="#0000ff"/>
<path d="M821.7 1369.63L845.7 1369.63L833.7 1345.63Z" fill="#0000ff"/>
<path d="M829.7 1369.63L853.7 1369.63L841.7 1345.63Z" fill="#0000ff"/>
<path d="M837.7 1369.63L861.7 1369.63L849.7 1345.63Z" fill="#0000ff"/>
<path d="M821.8 1279.3L845.8 1279.3L833.8 1255.3Z" fill="#0000ff"/>
<path d="M829.7 1279.3L853.7 1279.3L841.7 1255.3Z" fill="#0000ff"/>
<path d="M813.7 1249.19L837.7 1249.19L825.7 1225.19Z" fill="#0000ff"/>
<path d="M913.3 1315.52L937.3 1315.52L925.3 1339.52Z" fill="#ff0000"/>
<path d="M919.9 1255.3L943.9 1255.3L931.9 1279.3Z" fill="#ff0000"/>
<path d="M907.1 1225.19L931.1 1225.19L919.1 1249.19Z" fill="#ff0000"/>
<path d="M913.5 1225.19L937.5 1225.19L925.5 1249.19Z" fill="#ff0000"/>
<path d="M897.4 1195.08L921.4 1195.08L909.4 1219.08Z" fill="#ff0000"/>
<path d="M903.8 1195.08L927.8 1195.08L915.8 1219.08Z" fill="#ff0000"/>
<path d="M923 1195.08L947 1195.08L935 1219.08Z" fill="#ff0000"/>
<path d="M929.4 1195.08L953.4 1195.08L941.4 1219.08Z" fill="#ff0000"/>
<path d="M910.2 1164.97L934.2 1164.97L922.2 1188.97Z" fill="#ff0000"/>
<path d="M916.6 1164.97L940.6 1164.97L928.6 1188.97Z" fill="#ff0000"/>
<text x="751.6" y="1463.55" font-family="'Liberation Sans', sans-serif" font-size="29.33" font-weight="normal" text-anchor="end" transform="rotate(-45 751.6 1463.55)">PBS</text>
<text x="837.54" y="1469.31" font-family="'Liberation Sans', sans-serif" font-size="29.33" font-weight="normal" text-anchor="end" transform="rotate(-45 837.54 1469.31)">FlaB-tPspA</text>
<text x="935.1" y="1463.55" font-family="'Liberation Sans', sans-serif" font-size="29.33" font-weight="normal" text-anchor="end" transform="rotate(-45 935.1 1463.55)">FPB NC</text>
<text x="569.8" y="1239.3" font-family="'Liberation Sans', sans-serif" font-size="30" font-weight="bold" text-anchor="middle" transform="rotate(-90 569.8 1239.3)">tPspA-specific Nasal Wash&#160;&#160;IgA</text>
<text x="604.1" y="1239" font-family="'Liberation Sans', sans-serif" font-size="30.5" font-weight="bold" text-anchor="middle" transform="rotate(-90 604.1 1239)">(reciprocal log2 titer)</text>
<path d="M742.4 1077.7V1052.8H930.7V1077.7H925.7V1057.8H747.4V1077.7Z" fill="#000"/>
<path d="M-0.40 0.30L-1.25 -4.95A1.45 1.45 0 1 1 1.25 -4.95L0.40 0.30ZM-0.46 -0.20L3.66 -3.56A1.45 1.45 0 1 1 4.91 -1.39L-0.06 0.50ZM-0.06 -0.50L4.91 1.39A1.45 1.45 0 1 1 3.66 3.56L-0.46 0.20ZM0.40 -0.30L1.25 4.95A1.45 1.45 0 1 1 -1.25 4.95L-0.40 -0.30ZM0.46 0.20L-3.66 3.56A1.45 1.45 0 1 1 -4.91 1.39L0.06 -0.50ZM0.06 0.50L-4.91 -1.39A1.45 1.45 0 1 1 -3.66 -3.56L0.46 -0.20Z" transform="translate(820.85 1037.2)"/>
<path d="M-0.40 0.30L-1.25 -4.95A1.45 1.45 0 1 1 1.25 -4.95L0.40 0.30ZM-0.46 -0.20L3.66 -3.56A1.45 1.45 0 1 1 4.91 -1.39L-0.06 0.50ZM-0.06 -0.50L4.91 1.39A1.45 1.45 0 1 1 3.66 3.56L-0.46 0.20ZM0.40 -0.30L1.25 4.95A1.45 1.45 0 1 1 -1.25 4.95L-0.40 -0.30ZM0.46 0.20L-3.66 3.56A1.45 1.45 0 1 1 -4.91 1.39L0.06 -0.50ZM0.06 0.50L-4.91 -1.39A1.45 1.45 0 1 1 -3.66 -3.56L0.46 -0.20Z" transform="translate(836.45 1037.2)"/>
<path d="M-0.40 0.30L-1.25 -4.95A1.45 1.45 0 1 1 1.25 -4.95L0.40 0.30ZM-0.46 -0.20L3.66 -3.56A1.45 1.45 0 1 1 4.91 -1.39L-0.06 0.50ZM-0.06 -0.50L4.91 1.39A1.45 1.45 0 1 1 3.66 3.56L-0.46 0.20ZM0.40 -0.30L1.25 4.95A1.45 1.45 0 1 1 -1.25 4.95L-0.40 -0.30ZM0.46 0.20L-3.66 3.56A1.45 1.45 0 1 1 -4.91 1.39L0.06 -0.50ZM0.06 0.50L-4.91 -1.39A1.45 1.45 0 1 1 -3.66 -3.56L0.46 -0.20Z" transform="translate(852.05 1037.2)"/>
<path d="M-0.40 0.30L-1.25 -4.95A1.45 1.45 0 1 1 1.25 -4.95L0.40 0.30ZM-0.46 -0.20L3.66 -3.56A1.45 1.45 0 1 1 4.91 -1.39L-0.06 0.50ZM-0.06 -0.50L4.91 1.39A1.45 1.45 0 1 1 3.66 3.56L-0.46 0.20ZM0.40 -0.30L1.25 4.95A1.45 1.45 0 1 1 -1.25 4.95L-0.40 -0.30ZM0.46 0.20L-3.66 3.56A1.45 1.45 0 1 1 -4.91 1.39L0.06 -0.50ZM0.06 0.50L-4.91 -1.39A1.45 1.45 0 1 1 -3.66 -3.56L0.46 -0.20Z" transform="translate(867.65 1037.2)"/>
<path d="M744.8 1119V1094H836.5V1119H831.5V1099H749.8V1119Z" fill="#000"/>
<path d="M-0.40 0.30L-1.25 -4.95A1.45 1.45 0 1 1 1.25 -4.95L0.40 0.30ZM-0.46 -0.20L3.66 -3.56A1.45 1.45 0 1 1 4.91 -1.39L-0.06 0.50ZM-0.06 -0.50L4.91 1.39A1.45 1.45 0 1 1 3.66 3.56L-0.46 0.20ZM0.40 -0.30L1.25 4.95A1.45 1.45 0 1 1 -1.25 4.95L-0.40 -0.30ZM0.46 0.20L-3.66 3.56A1.45 1.45 0 1 1 -4.91 1.39L0.06 -0.50ZM0.06 0.50L-4.91 -1.39A1.45 1.45 0 1 1 -3.66 -3.56L0.46 -0.20Z" transform="translate(779.7 1083.05)"/>
<path d="M-0.40 0.30L-1.25 -4.95A1.45 1.45 0 1 1 1.25 -4.95L0.40 0.30ZM-0.46 -0.20L3.66 -3.56A1.45 1.45 0 1 1 4.91 -1.39L-0.06 0.50ZM-0.06 -0.50L4.91 1.39A1.45 1.45 0 1 1 3.66 3.56L-0.46 0.20ZM0.40 -0.30L1.25 4.95A1.45 1.45 0 1 1 -1.25 4.95L-0.40 -0.30ZM0.46 0.20L-3.66 3.56A1.45 1.45 0 1 1 -4.91 1.39L0.06 -0.50ZM0.06 0.50L-4.91 -1.39A1.45 1.45 0 1 1 -3.66 -3.56L0.46 -0.20Z" transform="translate(795.3 1083.05)"/>
<path d="M-0.40 0.30L-1.25 -4.95A1.45 1.45 0 1 1 1.25 -4.95L0.40 0.30ZM-0.46 -0.20L3.66 -3.56A1.45 1.45 0 1 1 4.91 -1.39L-0.06 0.50ZM-0.06 -0.50L4.91 1.39A1.45 1.45 0 1 1 3.66 3.56L-0.46 0.20ZM0.40 -0.30L1.25 4.95A1.45 1.45 0 1 1 -1.25 4.95L-0.40 -0.30ZM0.46 0.20L-3.66 3.56A1.45 1.45 0 1 1 -4.91 1.39L0.06 -0.50ZM0.06 0.50L-4.91 -1.39A1.45 1.45 0 1 1 -3.66 -3.56L0.46 -0.20Z" transform="translate(810.9 1083.05)"/>
<path d="M837.8 1117.4V1092.6H929.1V1117.4H924.1V1097.6H842.8V1117.4Z" fill="#000"/>
<path d="M-0.40 0.30L-1.25 -4.95A1.45 1.45 0 1 1 1.25 -4.95L0.40 0.30ZM-0.46 -0.20L3.66 -3.56A1.45 1.45 0 1 1 4.91 -1.39L-0.06 0.50ZM-0.06 -0.50L4.91 1.39A1.45 1.45 0 1 1 3.66 3.56L-0.46 0.20ZM0.40 -0.30L1.25 4.95A1.45 1.45 0 1 1 -1.25 4.95L-0.40 -0.30ZM0.46 0.20L-3.66 3.56A1.45 1.45 0 1 1 -4.91 1.39L0.06 -0.50ZM0.06 0.50L-4.91 -1.39A1.45 1.45 0 1 1 -3.66 -3.56L0.46 -0.20Z" transform="translate(862.8 1082.1)"/>
<path d="M-0.40 0.30L-1.25 -4.95A1.45 1.45 0 1 1 1.25 -4.95L0.40 0.30ZM-0.46 -0.20L3.66 -3.56A1.45 1.45 0 1 1 4.91 -1.39L-0.06 0.50ZM-0.06 -0.50L4.91 1.39A1.45 1.45 0 1 1 3.66 3.56L-0.46 0.20ZM0.40 -0.30L1.25 4.95A1.45 1.45 0 1 1 -1.25 4.95L-0.40 -0.30ZM0.46 0.20L-3.66 3.56A1.45 1.45 0 1 1 -4.91 1.39L0.06 -0.50ZM0.06 0.50L-4.91 -1.39A1.45 1.45 0 1 1 -3.66 -3.56L0.46 -0.20Z" transform="translate(878.4 1082.1)"/>
<path d="M-0.40 0.30L-1.25 -4.95A1.45 1.45 0 1 1 1.25 -4.95L0.40 0.30ZM-0.46 -0.20L3.66 -3.56A1.45 1.45 0 1 1 4.91 -1.39L-0.06 0.50ZM-0.06 -0.50L4.91 1.39A1.45 1.45 0 1 1 3.66 3.56L-0.46 0.20ZM0.40 -0.30L1.25 4.95A1.45 1.45 0 1 1 -1.25 4.95L-0.40 -0.30ZM0.46 0.20L-3.66 3.56A1.45 1.45 0 1 1 -4.91 1.39L0.06 -0.50ZM0.06 0.50L-4.91 -1.39A1.45 1.45 0 1 1 -3.66 -3.56L0.46 -0.20Z" transform="translate(894 1082.1)"/>
<path d="M-0.40 0.30L-1.25 -4.95A1.45 1.45 0 1 1 1.25 -4.95L0.40 0.30ZM-0.46 -0.20L3.66 -3.56A1.45 1.45 0 1 1 4.91 -1.39L-0.06 0.50ZM-0.06 -0.50L4.91 1.39A1.45 1.45 0 1 1 3.66 3.56L-0.46 0.20ZM0.40 -0.30L1.25 4.95A1.45 1.45 0 1 1 -1.25 4.95L-0.40 -0.30ZM0.46 0.20L-3.66 3.56A1.45 1.45 0 1 1 -4.91 1.39L0.06 -0.50ZM0.06 0.50L-4.91 -1.39A1.45 1.45 0 1 1 -3.66 -3.56L0.46 -0.20Z" transform="translate(909.6 1082.1)"/>
<rect x="1185.1" y="1051.36" width="7" height="367.84" fill="#000000"/>
<rect x="1167.8" y="1412.2" width="332.2" height="7" fill="#000000"/>
<rect x="1167.8" y="1412.2" width="20.8" height="7" fill="#000000"/>
<text transform="translate(1163.3 1425.1) scale(1 1.02)" font-family="'Liberation Sans', sans-serif" font-size="29.33" text-anchor="end">0</text>
<rect x="1167.8" y="1352.06" width="20.8" height="7" fill="#000000"/>
<text transform="translate(1163.3 1364.96) scale(1 1.02)" font-family="'Liberation Sans', sans-serif" font-size="29.33" text-anchor="end">2</text>
<rect x="1167.8" y="1291.92" width="20.8" height="7" fill="#000000"/>
<text transform="translate(1163.3 1304.82) scale(1 1.02)" font-family="'Liberation Sans', sans-serif" font-size="29.33" text-anchor="end">4</text>
<rect x="1167.8" y="1231.78" width="20.8" height="7" fill="#000000"/>
<text transform="translate(1163.3 1244.68) scale(1 1.02)" font-family="'Liberation Sans', sans-serif" font-size="29.33" text-anchor="end">6</text>
<rect x="1167.8" y="1171.64" width="20.8" height="7" fill="#000000"/>
<text transform="translate(1163.3 1184.54) scale(1 1.02)" font-family="'Liberation Sans', sans-serif" font-size="29.33" text-anchor="end">8</text>
<rect x="1167.8" y="1111.5" width="20.8" height="7" fill="#000000"/>
<path d="M763 0H583V1147Q518 1085 412.5 1023Q307 961 223 930V1104Q374 1175 487 1276Q600 1377 647 1472H763Z" transform="translate(1130.67 1124.4) scale(0.01432 -0.01432)"/>
<text transform="translate(1163.3 1124.4) scale(1 1.02)" font-family="'Liberation Sans', sans-serif" font-size="29.33" text-anchor="end">0</text>
<rect x="1167.8" y="1051.36" width="20.8" height="7" fill="#000000"/>
<path d="M763 0H583V1147Q518 1085 412.5 1023Q307 961 223 930V1104Q374 1175 487 1276Q600 1377 647 1472H763Z" transform="translate(1130.67 1064.26) scale(0.01432 -0.01432)"/>
<text transform="translate(1163.3 1064.26) scale(1 1.02)" font-family="'Liberation Sans', sans-serif" font-size="29.33" text-anchor="end">2</text>
<rect x="1246.2" y="1415.7" width="7" height="20.8" fill="#000000"/>
<rect x="1338" y="1415.7" width="7" height="20.8" fill="#000000"/>
<rect x="1429.8" y="1415.7" width="7" height="20.8" fill="#000000"/>
<path fill-rule="evenodd" d="M1311 1412.2V1313.46H1372V1412.2Z M1317.9 1412.2V1320.36H1365.1V1412.2Z" fill="#0000ff"/>
<path fill-rule="evenodd" d="M1402.8 1412.2V1221.92H1463.8V1412.2Z M1409.7 1412.2V1228.82H1456.9V1412.2Z" fill="#ff0000"/>
<rect x="1340.25" y="1297.18" width="2.5" height="32.57" fill="#0000ff"/>
<rect x="1326.3" y="1295.93" width="30.4" height="2.5" fill="#0000ff"/>
<rect x="1326.3" y="1328.5" width="30.4" height="2.5" fill="#0000ff"/>
<rect x="1432.05" y="1211.75" width="2.5" height="20.33" fill="#ff0000"/>
<rect x="1418.1" y="1210.5" width="30.4" height="2.5" fill="#ff0000"/>
<rect x="1418.1" y="1230.83" width="30.4" height="2.5" fill="#ff0000"/>
<circle cx="1233.43" cy="1415.7" r="11.7" fill="#000000"/>
<circle cx="1236.98" cy="1415.7" r="11.7" fill="#000000"/>
<circle cx="1240.53" cy="1415.7" r="11.7" fill="#000000"/>
<circle cx="1244.08" cy="1415.7" r="11.7" fill="#000000"/>
<circle cx="1247.62" cy="1415.7" r="11.7" fill="#000000"/>
<circle cx="1251.18" cy="1415.7" r="11.7" fill="#000000"/>
<circle cx="1254.73" cy="1415.7" r="11.7" fill="#000000"/>
<circle cx="1258.28" cy="1415.7" r="11.7" fill="#000000"/>
<circle cx="1261.83" cy="1415.7" r="11.7" fill="#000000"/>
<circle cx="1265.38" cy="1415.7" r="11.7" fill="#000000"/>
<path d="M1345.2 1397.63L1369.2 1397.63L1357.2 1373.63Z" fill="#0000ff"/>
<path d="M1313.1 1367.56L1337.1 1367.56L1325.1 1343.56Z" fill="#0000ff"/>
<path d="M1323.8 1367.56L1347.8 1367.56L1335.8 1343.56Z" fill="#0000ff"/>
<path d="M1334.4 1367.56L1358.4 1367.56L1346.4 1343.56Z" fill="#0000ff"/>
<path d="M1324.05 1337.49L1348.05 1337.49L1336.05 1313.49Z" fill="#0000ff"/>
<path d="M1335 1337.49L1359 1337.49L1347 1313.49Z" fill="#0000ff"/>
<path d="M1323.8 1277.35L1347.8 1277.35L1335.8 1253.35Z" fill="#0000ff"/>
<path d="M1334.4 1277.35L1358.4 1277.35L1346.4 1253.35Z" fill="#0000ff"/>
<path d="M1345.2 1277.35L1369.2 1277.35L1357.2 1253.35Z" fill="#0000ff"/>
<path d="M1313.1 1247.28L1337.1 1247.28L1325.1 1223.28Z" fill="#0000ff"/>
<path d="M1425.1 1253.35L1449.1 1253.35L1437.1 1277.35Z" fill="#ff0000"/>
<path d="M1433.1 1253.35L1457.1 1253.35L1445.1 1277.35Z" fill="#ff0000"/>
<path d="M1409.1 1223.28L1433.1 1223.28L1421.1 1247.28Z" fill="#ff0000"/>
<path d="M1417.1 1223.28L1441.1 1223.28L1429.1 1247.28Z" fill="#ff0000"/>
<path d="M1405.1 1193.21L1429.1 1193.21L1417.1 1217.21Z" fill="#ff0000"/>
<path d="M1413.1 1193.21L1437.1 1193.21L1425.1 1217.21Z" fill="#ff0000"/>
<path d="M1429.1 1193.21L1453.1 1193.21L1441.1 1217.21Z" fill="#ff0000"/>
<path d="M1437.1 1193.21L1461.1 1193.21L1449.1 1217.21Z" fill="#ff0000"/>
<path d="M1421.1 1163.14L1445.1 1163.14L1433.1 1187.14Z" fill="#ff0000"/>
<text x="1259.3" y="1461.4" font-family="'Liberation Sans', sans-serif" font-size="29.33" font-weight="normal" text-anchor="end" transform="rotate(-45 1259.3 1461.4)">PBS</text>
<text x="1345.34" y="1467.16" font-family="'Liberation Sans', sans-serif" font-size="29.33" font-weight="normal" text-anchor="end" transform="rotate(-45 1345.34 1467.16)">FlaB-tPspA</text>
<text x="1442.9" y="1461.4" font-family="'Liberation Sans', sans-serif" font-size="29.33" font-weight="normal" text-anchor="end" transform="rotate(-45 1442.9 1461.4)">FPB NC</text>
<text x="1063.3" y="1237.7" font-family="'Liberation Sans', sans-serif" font-size="30.25" font-weight="bold" text-anchor="middle" transform="rotate(-90 1063.3 1237.7)">tPspA-specific Saliva IgA</text>
<text x="1098.1" y="1237.4" font-family="'Liberation Sans', sans-serif" font-size="30.5" font-weight="bold" text-anchor="middle" transform="rotate(-90 1098.1 1237.4)">(reciprocal log2 titer)</text>
<path d="M1264 1090.6V1065.6H1429.5V1090.6H1424.5V1070.6H1269V1090.6Z" fill="#000"/>
<path d="M-0.40 0.30L-1.25 -4.95A1.45 1.45 0 1 1 1.25 -4.95L0.40 0.30ZM-0.46 -0.20L3.66 -3.56A1.45 1.45 0 1 1 4.91 -1.39L-0.06 0.50ZM-0.06 -0.50L4.91 1.39A1.45 1.45 0 1 1 3.66 3.56L-0.46 0.20ZM0.40 -0.30L1.25 4.95A1.45 1.45 0 1 1 -1.25 4.95L-0.40 -0.30ZM0.46 0.20L-3.66 3.56A1.45 1.45 0 1 1 -4.91 1.39L0.06 -0.50ZM0.06 0.50L-4.91 -1.39A1.45 1.45 0 1 1 -3.66 -3.56L0.46 -0.20Z" transform="translate(1325.8 1052.1)"/>
<path d="M-0.40 0.30L-1.25 -4.95A1.45 1.45 0 1 1 1.25 -4.95L0.40 0.30ZM-0.46 -0.20L3.66 -3.56A1.45 1.45 0 1 1 4.91 -1.39L-0.06 0.50ZM-0.06 -0.50L4.91 1.39A1.45 1.45 0 1 1 3.66 3.56L-0.46 0.20ZM0.40 -0.30L1.25 4.95A1.45 1.45 0 1 1 -1.25 4.95L-0.40 -0.30ZM0.46 0.20L-3.66 3.56A1.45 1.45 0 1 1 -4.91 1.39L0.06 -0.50ZM0.06 0.50L-4.91 -1.39A1.45 1.45 0 1 1 -3.66 -3.56L0.46 -0.20Z" transform="translate(1341.4 1052.1)"/>
<path d="M-0.40 0.30L-1.25 -4.95A1.45 1.45 0 1 1 1.25 -4.95L0.40 0.30ZM-0.46 -0.20L3.66 -3.56A1.45 1.45 0 1 1 4.91 -1.39L-0.06 0.50ZM-0.06 -0.50L4.91 1.39A1.45 1.45 0 1 1 3.66 3.56L-0.46 0.20ZM0.40 -0.30L1.25 4.95A1.45 1.45 0 1 1 -1.25 4.95L-0.40 -0.30ZM0.46 0.20L-3.66 3.56A1.45 1.45 0 1 1 -4.91 1.39L0.06 -0.50ZM0.06 0.50L-4.91 -1.39A1.45 1.45 0 1 1 -3.66 -3.56L0.46 -0.20Z" transform="translate(1357 1052.1)"/>
<path d="M-0.40 0.30L-1.25 -4.95A1.45 1.45 0 1 1 1.25 -4.95L0.40 0.30ZM-0.46 -0.20L3.66 -3.56A1.45 1.45 0 1 1 4.91 -1.39L-0.06 0.50ZM-0.06 -0.50L4.91 1.39A1.45 1.45 0 1 1 3.66 3.56L-0.46 0.20ZM0.40 -0.30L1.25 4.95A1.45 1.45 0 1 1 -1.25 4.95L-0.40 -0.30ZM0.46 0.20L-3.66 3.56A1.45 1.45 0 1 1 -4.91 1.39L0.06 -0.50ZM0.06 0.50L-4.91 -1.39A1.45 1.45 0 1 1 -3.66 -3.56L0.46 -0.20Z" transform="translate(1372.6 1052.1)"/>
<path d="M1264 1143.4V1118.1H1347V1143.4H1342V1123.1H1269V1143.4Z" fill="#000"/>
<path d="M-0.40 0.30L-1.25 -4.95A1.45 1.45 0 1 1 1.25 -4.95L0.40 0.30ZM-0.46 -0.20L3.66 -3.56A1.45 1.45 0 1 1 4.91 -1.39L-0.06 0.50ZM-0.06 -0.50L4.91 1.39A1.45 1.45 0 1 1 3.66 3.56L-0.46 0.20ZM0.40 -0.30L1.25 4.95A1.45 1.45 0 1 1 -1.25 4.95L-0.40 -0.30ZM0.46 0.20L-3.66 3.56A1.45 1.45 0 1 1 -4.91 1.39L0.06 -0.50ZM0.06 0.50L-4.91 -1.39A1.45 1.45 0 1 1 -3.66 -3.56L0.46 -0.20Z" transform="translate(1284.7 1108.1)"/>
<path d="M-0.40 0.30L-1.25 -4.95A1.45 1.45 0 1 1 1.25 -4.95L0.40 0.30ZM-0.46 -0.20L3.66 -3.56A1.45 1.45 0 1 1 4.91 -1.39L-0.06 0.50ZM-0.06 -0.50L4.91 1.39A1.45 1.45 0 1 1 3.66 3.56L-0.46 0.20ZM0.40 -0.30L1.25 4.95A1.45 1.45 0 1 1 -1.25 4.95L-0.40 -0.30ZM0.46 0.20L-3.66 3.56A1.45 1.45 0 1 1 -4.91 1.39L0.06 -0.50ZM0.06 0.50L-4.91 -1.39A1.45 1.45 0 1 1 -3.66 -3.56L0.46 -0.20Z" transform="translate(1300.3 1108.1)"/>
<path d="M-0.40 0.30L-1.25 -4.95A1.45 1.45 0 1 1 1.25 -4.95L0.40 0.30ZM-0.46 -0.20L3.66 -3.56A1.45 1.45 0 1 1 4.91 -1.39L-0.06 0.50ZM-0.06 -0.50L4.91 1.39A1.45 1.45 0 1 1 3.66 3.56L-0.46 0.20ZM0.40 -0.30L1.25 4.95A1.45 1.45 0 1 1 -1.25 4.95L-0.40 -0.30ZM0.46 0.20L-3.66 3.56A1.45 1.45 0 1 1 -4.91 1.39L0.06 -0.50ZM0.06 0.50L-4.91 -1.39A1.45 1.45 0 1 1 -3.66 -3.56L0.46 -0.20Z" transform="translate(1315.9 1108.1)"/>
<path d="M-0.40 0.30L-1.25 -4.95A1.45 1.45 0 1 1 1.25 -4.95L0.40 0.30ZM-0.46 -0.20L3.66 -3.56A1.45 1.45 0 1 1 4.91 -1.39L-0.06 0.50ZM-0.06 -0.50L4.91 1.39A1.45 1.45 0 1 1 3.66 3.56L-0.46 0.20ZM0.40 -0.30L1.25 4.95A1.45 1.45 0 1 1 -1.25 4.95L-0.40 -0.30ZM0.46 0.20L-3.66 3.56A1.45 1.45 0 1 1 -4.91 1.39L0.06 -0.50ZM0.06 0.50L-4.91 -1.39A1.45 1.45 0 1 1 -3.66 -3.56L0.46 -0.20Z" transform="translate(1331.5 1108.1)"/>
<path d="M1337.4 1143.4V1118.1H1427.1V1143.4H1422.1V1123.1H1342.4V1143.4Z" fill="#000"/>
<path d="M-0.40 0.30L-1.25 -4.95A1.45 1.45 0 1 1 1.25 -4.95L0.40 0.30ZM-0.46 -0.20L3.66 -3.56A1.45 1.45 0 1 1 4.91 -1.39L-0.06 0.50ZM-0.06 -0.50L4.91 1.39A1.45 1.45 0 1 1 3.66 3.56L-0.46 0.20ZM0.40 -0.30L1.25 4.95A1.45 1.45 0 1 1 -1.25 4.95L-0.40 -0.30ZM0.46 0.20L-3.66 3.56A1.45 1.45 0 1 1 -4.91 1.39L0.06 -0.50ZM0.06 0.50L-4.91 -1.39A1.45 1.45 0 1 1 -3.66 -3.56L0.46 -0.20Z" transform="translate(1364.8 1106.9)"/>
<path d="M-0.40 0.30L-1.25 -4.95A1.45 1.45 0 1 1 1.25 -4.95L0.40 0.30ZM-0.46 -0.20L3.66 -3.56A1.45 1.45 0 1 1 4.91 -1.39L-0.06 0.50ZM-0.06 -0.50L4.91 1.39A1.45 1.45 0 1 1 3.66 3.56L-0.46 0.20ZM0.40 -0.30L1.25 4.95A1.45 1.45 0 1 1 -1.25 4.95L-0.40 -0.30ZM0.46 0.20L-3.66 3.56A1.45 1.45 0 1 1 -4.91 1.39L0.06 -0.50ZM0.06 0.50L-4.91 -1.39A1.45 1.45 0 1 1 -3.66 -3.56L0.46 -0.20Z" transform="translate(1380.4 1106.9)"/>
<path d="M-0.40 0.30L-1.25 -4.95A1.45 1.45 0 1 1 1.25 -4.95L0.40 0.30ZM-0.46 -0.20L3.66 -3.56A1.45 1.45 0 1 1 4.91 -1.39L-0.06 0.50ZM-0.06 -0.50L4.91 1.39A1.45 1.45 0 1 1 3.66 3.56L-0.46 0.20ZM0.40 -0.30L1.25 4.95A1.45 1.45 0 1 1 -1.25 4.95L-0.40 -0.30ZM0.46 0.20L-3.66 3.56A1.45 1.45 0 1 1 -4.91 1.39L0.06 -0.50ZM0.06 0.50L-4.91 -1.39A1.45 1.45 0 1 1 -3.66 -3.56L0.46 -0.20Z" transform="translate(1396 1106.9)"/>
<path d="M-0.40 0.30L-1.25 -4.95A1.45 1.45 0 1 1 1.25 -4.95L0.40 0.30ZM-0.46 -0.20L3.66 -3.56A1.45 1.45 0 1 1 4.91 -1.39L-0.06 0.50ZM-0.06 -0.50L4.91 1.39A1.45 1.45 0 1 1 3.66 3.56L-0.46 0.20ZM0.40 -0.30L1.25 4.95A1.45 1.45 0 1 1 -1.25 4.95L-0.40 -0.30ZM0.46 0.20L-3.66 3.56A1.45 1.45 0 1 1 -4.91 1.39L0.06 -0.50ZM0.06 0.50L-4.91 -1.39A1.45 1.45 0 1 1 -3.66 -3.56L0.46 -0.20Z" transform="translate(1411.6 1106.9)"/>
</svg>
</body></html>
